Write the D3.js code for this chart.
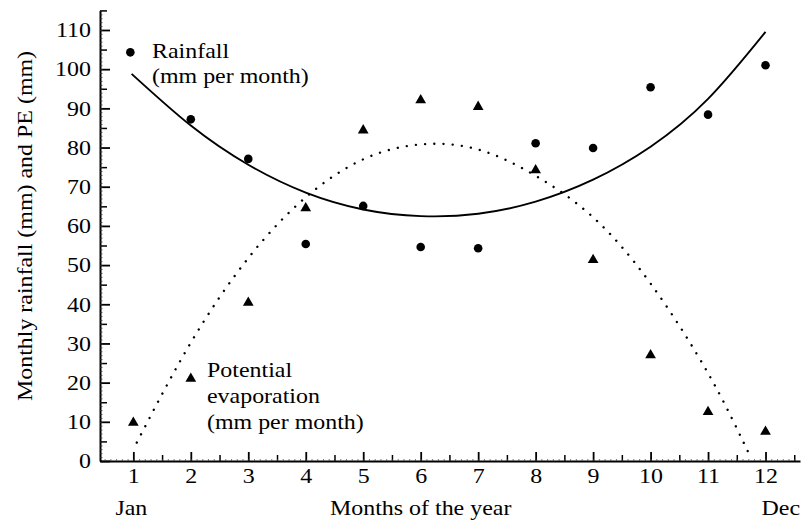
<!DOCTYPE html>
<html>
<head>
<meta charset="utf-8">
<script src="https://cdn.jsdelivr.net/npm/d3@7"></script>
<style>
  html, body { margin: 0; padding: 0; background: #fff; }
  svg { display: block; }
  text { font-family: "Liberation Serif", "Times New Roman", serif; fill: #000; }
</style>
</head>
<body>
<svg id="chart" width="802" height="522"></svg>
<script>
// Monthly observations
const months = [1, 2, 3, 4, 5, 6, 7, 8, 9, 10, 11, 12];
const rainfall = [104.3, 87.2, 77.1, 55.4, 65.1, 54.6, 54.3, 81.1, 79.9, 95.4, 88.4, 101.0];
const evaporation = [9.8, 21.0, 40.4, 64.5, 84.4, 92.1, 90.4, 74.2, 51.3, 27.0, 12.5, 7.5];

// Fitted trend curves: [month, mm]
const rainfallTrend = [[0.97, 98.8], [2, 85.6], [3, 75.6], [4, 68.5], [5, 64.2], [6, 62.5],
  [7, 63.1], [8, 66.2], [9, 71.8], [10, 80.2], [11, 92.4], [12, 109.5]];
const evaporationTrend = [[1.06, 4.7], [2, 30.2], [3, 51.8], [4, 67.3], [5, 77.0], [6, 80.8],
  [7, 79.5], [8, 72.8], [9, 62.2], [10, 45.3], [11, 22.4], [11.7, 2.2]];

// Axis ticks and labels
const yMajorTicks = [0, 10, 20, 30, 40, 50, 60, 70, 80, 90, 100, 110];
const yMinorTicks = [5, 15, 25, 35, 45, 55, 65, 75, 85, 95, 105, 115];
const xHalfTicks = [1.5, 2.5, 3.5, 4.5, 5.5, 6.5, 7.5, 8.5, 9.5, 10.5, 11.5, 12.5];
const endMonthLabels = ["Jan", "Dec"];
const yTitle = "Monthly rainfall (mm) and PE (mm)";
const xTitle = "Months of the year";
const rainfallLegend = ["Rainfall", "(mm per month)"];
const evaporationLegend = ["Potential", "evaporation", "(mm per month)"];

const FONT = '"Liberation Serif", "Times New Roman", serif';
const FS = 21;        // font size
const SX = 1.14;      // horizontal widening of the typeface

const svg = d3.select("#chart");
const x = d3.scaleLinear().domain([0.42, 12.6]).range([100, 800]);
const y = d3.scaleLinear().domain([0, 115]).range([461, 10.4]);

// ---- Y axis ----
const yAxisG = svg.append("g").attr("transform", `translate(${x.range()[0]},0)`);
yAxisG.call(d3.axisLeft(y).tickValues(yMajorTicks).tickSize(-10).tickSizeOuter(0).tickPadding(8));
yAxisG.attr("font-family", FONT).attr("font-size", FS);
yAxisG.select(".domain").attr("stroke", "#000").attr("stroke-width", 2);
yAxisG.selectAll(".tick line").attr("stroke", "#000").attr("stroke-width", 1.8);
yAxisG.selectAll(".tick text")
  .attr("fill", "#000")
  .attr("transform", `scale(${SX},1)`);

svg.append("g").attr("transform", `translate(${x.range()[0]},0)`)
  .call(d3.axisRight(y).tickValues(yMinorTicks).tickSize(7).tickSizeOuter(0).tickFormat(""))
  .call(g => g.select(".domain").remove())
  .call(g => g.selectAll(".tick line").attr("stroke", "#000").attr("stroke-width", 1.5));

svg.append("g").attr("transform", `translate(${x.range()[0]},0)`)
  .call(d3.axisRight(y).tickValues(d3.range(1, 116)).tickSize(2.5).tickSizeOuter(0).tickFormat(""))
  .call(g => g.select(".domain").remove())
  .call(g => g.selectAll(".tick line").attr("stroke", "#333").attr("stroke-width", 0.8));

// ---- X axis ----
const xAxisG = svg.append("g").attr("transform", `translate(0,${y(0)})`);
xAxisG.call(d3.axisBottom(x).tickValues(months).tickSize(-9).tickSizeOuter(0).tickPadding(7));
xAxisG.attr("font-family", FONT).attr("font-size", FS);
xAxisG.select(".domain").attr("stroke", "#000").attr("stroke-width", 2);
xAxisG.selectAll(".tick line").attr("stroke", "#000").attr("stroke-width", 1.8);
xAxisG.selectAll(".tick text")
  .attr("fill", "#000")
  .attr("transform", `scale(${SX},1)`)
  .attr("x", 0);

svg.append("g").attr("transform", `translate(0,${y(0)})`)
  .call(d3.axisBottom(x).tickValues(xHalfTicks).tickSize(-6).tickSizeOuter(0).tickFormat(""))
  .call(g => g.select(".domain").remove())
  .call(g => g.selectAll(".tick line").attr("stroke", "#000").attr("stroke-width", 1.5));

svg.append("g").attr("transform", `translate(0,${y(0)})`)
  .call(d3.axisBottom(x).tickValues(d3.range(0.5, 12.6, 0.1)).tickSize(-2).tickSizeOuter(0).tickFormat(""))
  .call(g => g.select(".domain").remove())
  .call(g => g.selectAll(".tick line").attr("stroke", "#444").attr("stroke-width", 0.7));

// scaled text helper
function label(tx, ty, str, anchor, rotate) {
  const t = `translate(${tx},${ty})` + (rotate ? ` rotate(${rotate})` : "") + ` scale(${SX},1)`;
  return svg.append("text")
    .attr("transform", t)
    .attr("text-anchor", anchor || "start")
    .attr("font-family", FONT)
    .attr("font-size", FS)
    .text(str);
}

// Axis titles
label(32, 226, yTitle, "middle", -90);
label(330, 515, xTitle, "start");
label(x(months[0]) - 2, 515, endMonthLabels[0], "middle");
label(x(months[11]) - 4, 515, endMonthLabels[1], "start");

// ---- Trend curves ----
const line = d3.line().x(d => x(d[0])).y(d => y(d[1])).curve(d3.curveNatural);

svg.append("path")
  .datum(rainfallTrend)
  .attr("d", line)
  .attr("fill", "none")
  .attr("stroke", "#000")
  .attr("stroke-width", 1.9);

svg.append("path")
  .datum(evaporationTrend)
  .attr("d", line)
  .attr("fill", "none")
  .attr("stroke", "#000")
  .attr("stroke-width", 2.4)
  .attr("stroke-linecap", "round")
  .attr("stroke-dasharray", "0.01 9.2");

// ---- Observations ----
svg.append("g").selectAll("circle")
  .data(months)
  .join("circle")
  .attr("cx", (m, i) => x(m) - (i === 0 ? 3 : 0))
  .attr("cy", (m, i) => y(rainfall[i]))
  .attr("r", 4.3)
  .attr("fill", "#000");

const tri = d3.symbol().type(d3.symbolTriangle).size(50);
svg.append("g").selectAll("path")
  .data(months)
  .join("path")
  .attr("transform", (m, i) => `translate(${x(m)},${y(evaporation[i])})`)
  .attr("d", tri)
  .attr("fill", "#000");

// ---- Legend text ----
rainfallLegend.forEach((s, i) => label(152, 58 + i * 25, s, "start"));
evaporationLegend.forEach((s, i) => label(207, 377 + i * 26, s, "start"));
</script>
</body>
</html>
